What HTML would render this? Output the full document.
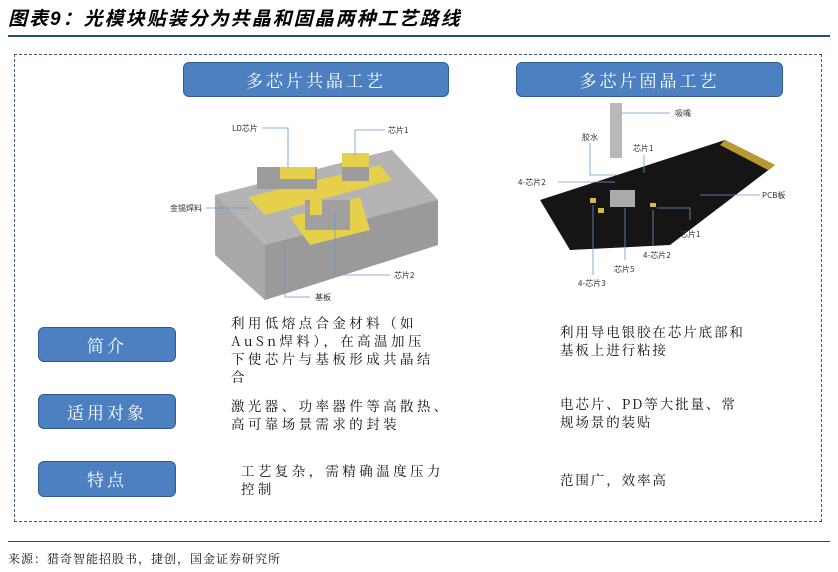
<!DOCTYPE html>
<html><head><meta charset="utf-8"><style>
body{margin:0;width:838px;height:572px;background:#fff;position:relative;overflow:hidden;font-family:"Liberation Sans","Noto Sans CJK SC",sans-serif}
.a{position:absolute}
.title{left:8px;top:4px;font-size:19px;font-weight:bold;font-style:italic;color:#000;letter-spacing:2px}
.btn{position:absolute;background:#4d80c0;border:1.5px solid #2f5c8f;border-radius:6px;color:#fff;text-align:center;font-family:"Noto Serif CJK SC","Noto Sans CJK SC",serif;letter-spacing:3px}
.t{position:absolute;font-size:13.5px;line-height:18px;color:#111;font-family:"Noto Serif CJK SC","Noto Sans CJK SC",serif;white-space:nowrap}
.l{letter-spacing:3.4px}
.r{letter-spacing:1.9px}
.lbl{font-size:8px;fill:#333;font-family:"Noto Sans CJK SC",sans-serif}
</style></head><body>
<div class="a title">图表9：光模块贴装分为共晶和固晶两种工艺路线</div>
<div class="a" style="left:8px;top:35px;width:822px;height:2px;background:#1f4e79"></div>
<div class="a" style="left:14px;top:54px;width:806px;height:466px;border:1.5px dashed #3c5a7a"></div>
<div class="btn" style="left:183px;top:62px;width:264px;height:33px;line-height:33px;font-size:17px">多芯片共晶工艺</div>
<div class="btn" style="left:516px;top:62px;width:265px;height:33px;line-height:33px;font-size:17px">多芯片固晶工艺</div>
<svg class="a" style="left:170px;top:105px" width="310" height="200">
<polygon points="45,90 222,45 268,95 268,140 95,195 45,150" fill="#a8a8a8"/>
<polygon points="45,90 222,45 268,95 95,140" fill="#b4b4b4"/>
<polygon points="95,140 268,95 268,140 95,195" fill="#9a9a9a"/>
<polygon points="78,92 210,60 222,75 95,110" fill="#e6cf4a"/>
<polygon points="120,112 190,92 200,125 140,140" fill="#e6cf4a"/>
<rect x="87" y="62" width="60" height="22" fill="#9c9c9c"/><rect x="110" y="62" width="35" height="12" fill="#e6cf4a"/>
<rect x="172" y="48" width="27" height="28" fill="#9c9c9c"/><rect x="172" y="48" width="27" height="14" fill="#e6cf4a"/>
<rect x="135" y="95" width="45" height="30" fill="#a0a0a0"/><rect x="140" y="95" width="12" height="15" fill="#e6cf4a"/>
<g stroke="#6a9ac8" stroke-width="0.8" fill="none">
<polyline points="92,23 118,23 118,62"/><polyline points="215,25 185,25 185,50"/>
<polyline points="36,103 80,103"/><polyline points="165,108 165,170 220,170"/><polyline points="115,140 115,192 140,192"/></g>
<text class="lbl" x="62" y="26">LD芯片</text><text class="lbl" x="218" y="28">芯片1</text>
<text class="lbl" x="0" y="106">金锡焊料</text><text class="lbl" x="224" y="173">芯片2</text><text class="lbl" x="145" y="195">基板</text>
</svg>
<svg class="a" style="left:510px;top:95px" width="300" height="200">
<polygon points="30,105 215,45 265,70 160,150 60,155" fill="#151515"/>
<polygon points="215,45 265,70 258,75 210,50" fill="#b89a30"/>
<rect x="100" y="95" width="25" height="17" fill="#aaa"/>
<rect x="80" y="103" width="6" height="5" fill="#d4b84a"/><rect x="88" y="113" width="6" height="5" fill="#d4b84a"/>
<rect x="140" y="108" width="6" height="4" fill="#d4b84a"/>
<rect x="100" y="8" width="12" height="55" fill="#b8b8b8"/>
<g stroke="#6a9ac8" stroke-width="0.8" fill="none">
<polyline points="112,18 160,18"/><polyline points="80,48 80,80 107,80"/><polyline points="134,60 134,78"/>
<polyline points="48,87 105,87"/><polyline points="190,100 250,100"/><polyline points="147,113 180,113 180,125"/>
<polyline points="143,115 143,150"/><polyline points="115,113 115,165"/><polyline points="83,110 83,180"/></g>
<text class="lbl" x="165" y="21">吸嘴</text><text class="lbl" x="72" y="45">胶水</text><text class="lbl" x="123" y="56">芯片1</text>
<text class="lbl" x="8" y="90">4-芯片2</text><text class="lbl" x="252" y="103">PCB板</text><text class="lbl" x="170" y="142">芯片1</text>
<text class="lbl" x="133" y="163">4-芯片2</text><text class="lbl" x="104" y="177">芯片5</text><text class="lbl" x="68" y="191">4-芯片3</text>
</svg>
<div class="btn" style="left:38px;top:327px;width:136px;height:33px;line-height:33px;font-size:17px">简介</div>
<div class="btn" style="left:38px;top:394px;width:136px;height:33px;line-height:33px;font-size:17px">适用对象</div>
<div class="btn" style="left:38px;top:461px;width:136px;height:34px;line-height:34px;font-size:17px">特点</div>
<div class="t l" style="left:231px;top:313px">利用低熔点合金材料（如<br>AuSn焊料），在高温加压<br>下使芯片与基板形成共晶结<br>合</div>
<div class="t l" style="left:231px;top:396px">激光器、功率器件等高散热、<br>高可靠场景需求的封装</div>
<div class="t l" style="left:241px;top:461px">工艺复杂，需精确温度压力<br>控制</div>
<div class="t r" style="left:560px;top:322px">利用导电银胶在芯片底部和<br>基板上进行粘接</div>
<div class="t r" style="left:560px;top:394px">电芯片、PD等大批量、常<br>规场景的装贴</div>
<div class="t r" style="left:560px;top:470px">范围广，效率高</div>
<div class="a" style="left:8px;top:541px;width:822px;height:1px;background:#1f4e79"></div>
<div class="t" style="left:8px;top:550px;font-size:12px;letter-spacing:1px">来源：猎奇智能招股书，捷创，国金证券研究所</div>
</body></html>
